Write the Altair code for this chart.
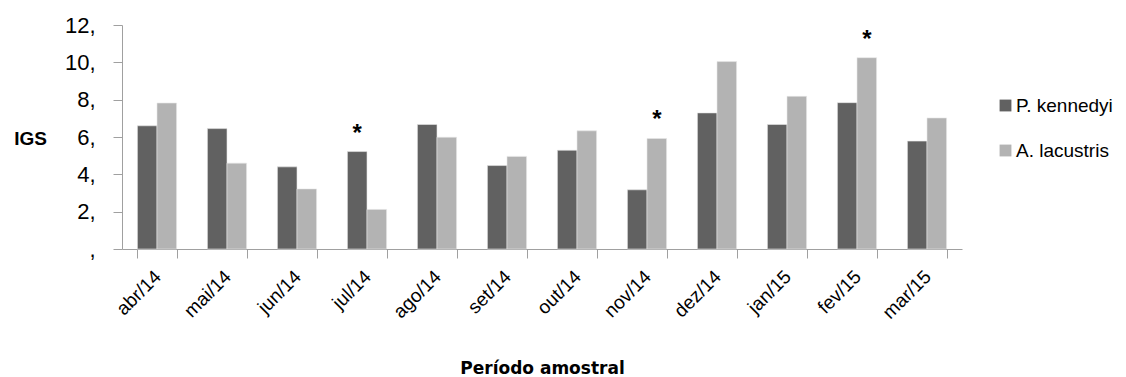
import altair as alt
import pandas as pd

months = ["abr/14", "mai/14", "jun/14", "jul/14", "ago/14", "set/14",
          "out/14", "nov/14", "dez/14", "jan/15", "fev/15", "mar/15"]
kennedyi = [6.6, 6.45, 4.4, 5.22, 6.67, 4.47, 5.29, 3.17, 7.29, 6.67, 7.84, 5.78]
lacustris = [7.82, 4.6, 3.22, 2.12, 5.99, 4.96, 6.33, 5.92, 10.04, 8.18, 10.25, 7.02]
sig_kennedyi = ["", "", "", "*", "", "", "", "", "", "", "", ""]
sig_lacustris = ["", "", "", "", "", "", "", "*", "", "", "*", ""]
y_ticks = [0, 2, 4, 6, 8, 10, 12]
series = ["P. kennedyi", "A. lacustris"]
colors = ["#616161", "#b3b3b3"]

rows = []
for i, m in enumerate(months):
    rows.append({"mes": m, "especie": series[0], "igs": kennedyi[i], "sig": sig_kennedyi[i]})
    rows.append({"mes": m, "especie": series[1], "igs": lacustris[i], "sig": sig_lacustris[i]})
df = pd.DataFrame(rows)

FONT = "Liberation Sans"

x = alt.X("mes:N", sort=months,
          scale=alt.Scale(paddingInner=0.44, paddingOuter=0.22),
          axis=alt.Axis(title="Período amostral", labelAngle=-45, labelFontSize=19,
                        labelFont=FONT, labelColor="black", labelPadding=9,
                        labelOffset=-6,
                        tickBand="extent", tickSize=9, tickColor="#a0a0a0",
                        domainColor="#a0a0a0", titleFont="DejaVu Sans", titleFontSize=17,
                        titleFontWeight="bold", titleColor="black",
                        titleY=124, titleBaseline="alphabetic"))
xo = alt.XOffset("especie:N", sort=series, scale=alt.Scale(paddingInner=0, paddingOuter=0))
y = alt.Y("igs:Q", scale=alt.Scale(domain=[0, 12], nice=False),
          axis=alt.Axis(title="IGS", values=y_ticks, tickCount=7,
                        labelExpr="datum.value == 0 ? ',' : datum.label + ','",
                        labelOverlap=False,
                        labelFontSize=22, labelFont=FONT, labelColor="black",
                        labelPadding=18, tickSize=9, tickColor="#a0a0a0",
                        domainColor="#a0a0a0", grid=False,
                        titleAngle=0, titleX=-92, titleY=113, titleAlign="center",
                        titleBaseline="middle", titleFont=FONT, titleFontSize=19,
                        titleFontWeight="bold", titleColor="black"))

bars = alt.Chart(df).mark_bar(stroke="#e8e8e8", strokeWidth=0.6).encode(
    x=x, xOffset=xo, y=y,
    color=alt.Color("especie:N", sort=series,
                    scale=alt.Scale(domain=series, range=colors),
                    legend=alt.Legend(title=None, orient="none", legendX=874, legendY=71,
                                      symbolType="square", symbolSize=140,
                                      symbolStrokeWidth=0, labelFontSize=19,
                                      labelFont=FONT, labelColor="black",
                                      rowPadding=25, labelOffset=1, padding=0,
                                      symbolOffset=0)),
)

stars = alt.Chart(df).mark_text(dy=-18, fontSize=24, fontWeight="bold", font=FONT,
                                color="black", baseline="middle").encode(
    x=x, xOffset=xo, y=y, text="sig:N")

chart = alt.layer(bars, stars).properties(
    width=840, height=224,
    autosize=alt.AutoSizeParams(type="none"),
    padding={"left": 114, "top": 17, "right": 156, "bottom": 128},
).configure_view(stroke=None)

chart.save("out.html", embed_options={"renderer": "svg", "actions": False})
